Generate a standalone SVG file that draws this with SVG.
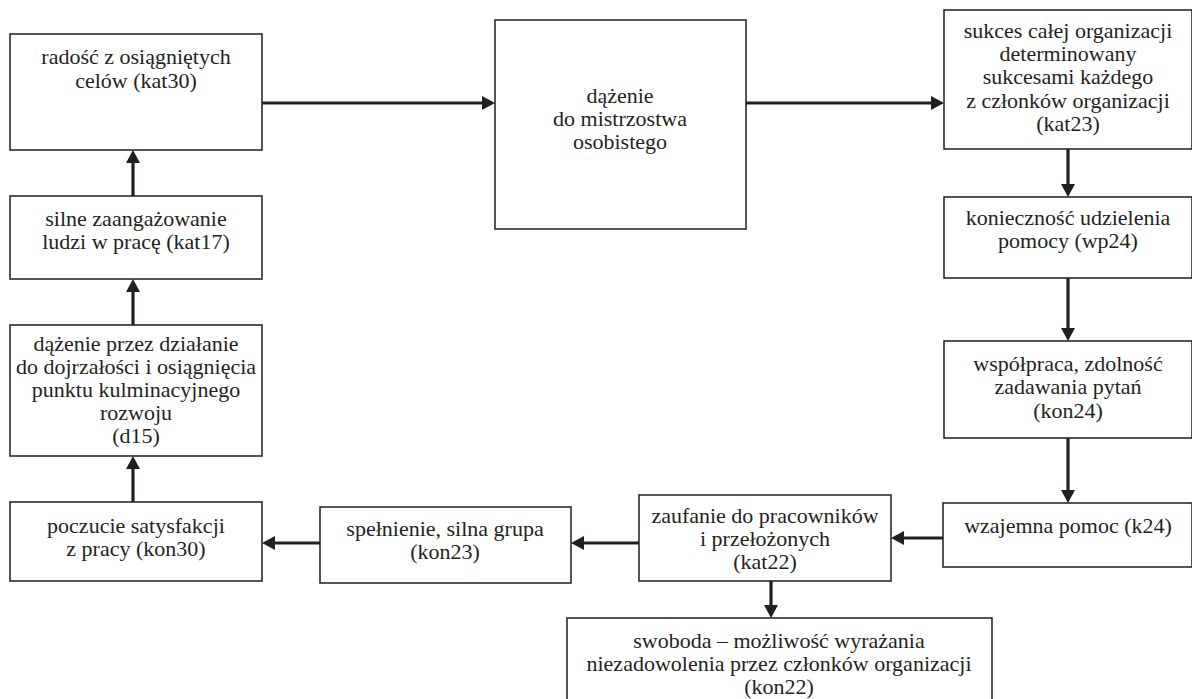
<svg xmlns="http://www.w3.org/2000/svg" width="1192" height="699" viewBox="0 0 1192 699">
<style>
.box{fill:#fff;stroke:#2b2b2b;stroke-width:1.6}
.t{font-family:"Liberation Serif","Times New Roman",serif;font-size:22px;fill:#231f20;text-anchor:middle}
.c{fill:none;stroke:#231f20;stroke-width:3.2;marker-end:url(#ah)}
</style>
<defs>
<marker id="ah" markerUnits="userSpaceOnUse" markerWidth="14" markerHeight="14" refX="7" refY="7" orient="auto">
<path d="M0,0 L13,7 L0,14 z" fill="#231f20"/>
</marker>
</defs>
<rect width="1192" height="699" fill="#fff"/>
<g id="n-radosc"><rect class="box" x="10" y="34" width="252" height="116"/>
<text class="t"><tspan x="136" y="64">radość z osiągniętych</tspan><tspan x="136" y="88">celów (kat30)</tspan></text></g>
<g id="n-silne"><rect class="box" x="10" y="196" width="252" height="83"/>
<text class="t"><tspan x="136" y="226">silne zaangażowanie</tspan><tspan x="136" y="249">ludzi w pracę (kat17)</tspan></text></g>
<g id="n-d15"><rect class="box" x="10" y="325" width="252" height="131"/>
<text class="t"><tspan x="136" y="351">dążenie przez działanie</tspan><tspan x="136" y="374">do dojrzałości i osiągnięcia</tspan><tspan x="136" y="397">punktu kulminacyjnego</tspan><tspan x="136" y="420">rozwoju</tspan><tspan x="136" y="443">(d15)</tspan></text></g>
<g id="n-kon30"><rect class="box" x="10" y="502" width="252" height="79"/>
<text class="t"><tspan x="136" y="533">poczucie satysfakcji</tspan><tspan x="136" y="556">z pracy (kon30)</tspan></text></g>
<g id="n-center"><rect class="box" x="495" y="20" width="251" height="209"/>
<text class="t"><tspan x="620" y="103">dążenie</tspan><tspan x="620" y="126">do mistrzostwa</tspan><tspan x="620" y="149">osobistego</tspan></text></g>
<g id="n-kat23"><rect class="box" x="944" y="10" width="248" height="139"/>
<text class="t"><tspan x="1068" y="38">sukces całej organizacji</tspan><tspan x="1068" y="61">determinowany</tspan><tspan x="1068" y="84">sukcesami każdego</tspan><tspan x="1068" y="108">z członków organizacji</tspan><tspan x="1068" y="131">(kat23)</tspan></text></g>
<g id="n-wp24"><rect class="box" x="944" y="197" width="248" height="81"/>
<text class="t"><tspan x="1068" y="225">konieczność udzielenia</tspan><tspan x="1068" y="248">pomocy (wp24)</tspan></text></g>
<g id="n-kon24"><rect class="box" x="944" y="341" width="248" height="97"/>
<text class="t"><tspan x="1068" y="371">współpraca, zdolność</tspan><tspan x="1068" y="394">zadawania pytań</tspan><tspan x="1068" y="418">(kon24)</tspan></text></g>
<g id="n-k24"><rect class="box" x="943" y="503" width="249" height="64"/>
<text class="t"><tspan x="1068" y="533">wzajemna pomoc (k24)</tspan></text></g>
<g id="n-kat22"><rect class="box" x="639" y="495" width="252" height="86"/>
<text class="t"><tspan x="765" y="523">zaufanie do pracowników</tspan><tspan x="765" y="546">i przełożonych</tspan><tspan x="765" y="569">(kat22)</tspan></text></g>
<g id="n-kon23"><rect class="box" x="320" y="507" width="251" height="76"/>
<text class="t"><tspan x="445" y="536">spełnienie, silna grupa</tspan><tspan x="445" y="559">(kon23)</tspan></text></g>
<g id="n-kon22"><rect class="box" x="567" y="618" width="425" height="100"/>
<text class="t"><tspan x="779" y="648">swoboda – możliwość wyrażania</tspan><tspan x="779" y="671">niezadowolenia przez członków organizacji</tspan><tspan x="779" y="694">(kon22)</tspan></text></g>
<g id="connectors">
<line class="c" x1="262" y1="103" x2="489" y2="103"/>
<line class="c" x1="746" y1="103" x2="938" y2="103"/>
<line class="c" x1="1068" y1="149" x2="1068" y2="191"/>
<line class="c" x1="1068" y1="278" x2="1068" y2="335"/>
<line class="c" x1="1068" y1="438" x2="1068" y2="497"/>
<line class="c" x1="943" y1="538" x2="897" y2="538"/>
<line class="c" x1="639" y1="543" x2="577" y2="543"/>
<line class="c" x1="320" y1="543" x2="268" y2="543"/>
<line class="c" x1="771" y1="581" x2="771" y2="612"/>
<line class="c" x1="133" y1="502" x2="133" y2="462"/>
<line class="c" x1="133" y1="325" x2="133" y2="285"/>
<line class="c" x1="133" y1="196" x2="133" y2="156"/>
</g>
</svg>
